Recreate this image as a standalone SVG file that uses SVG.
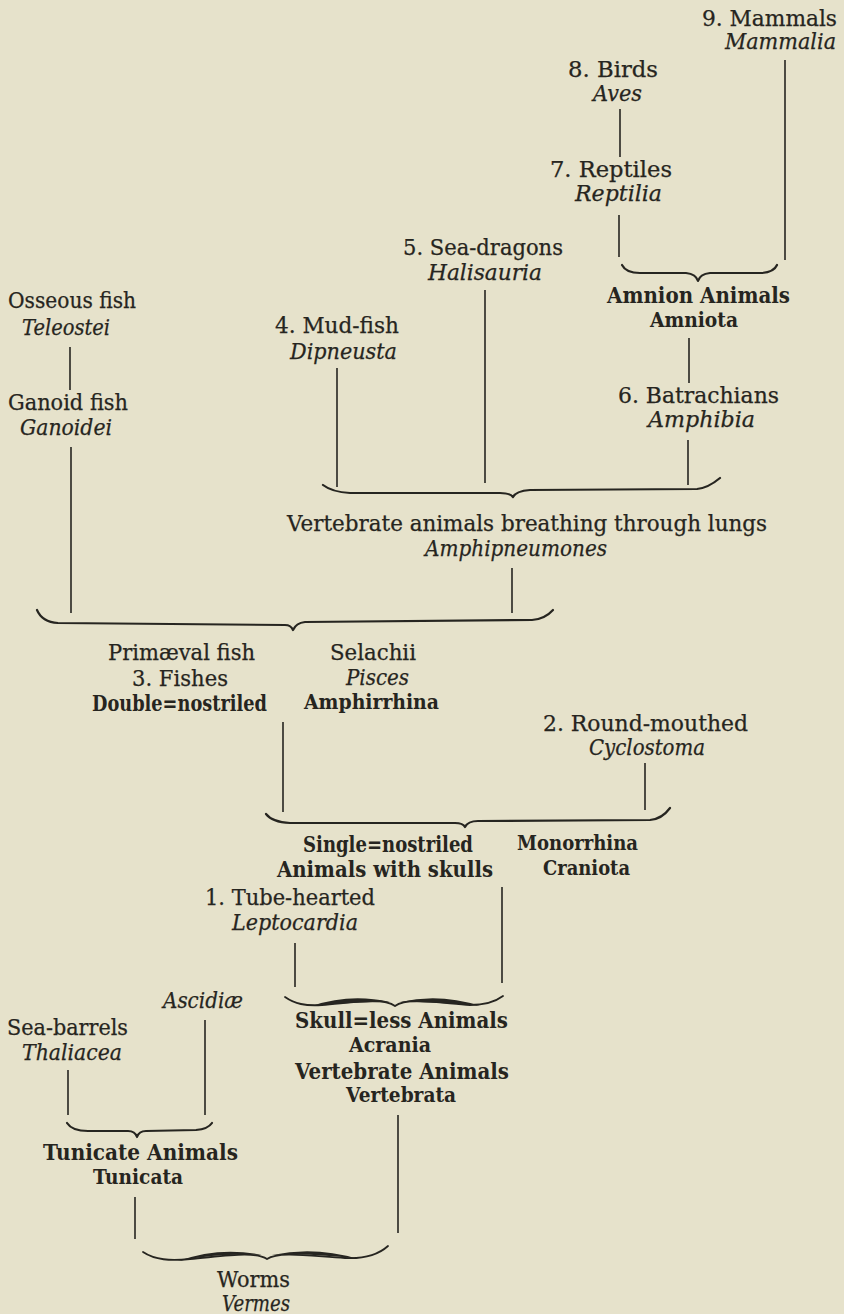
<svg xmlns="http://www.w3.org/2000/svg" width="844" height="1314" viewBox="0 0 844 1314">
<style>
text{font-family:"DejaVu Serif","Liberation Serif",serif;font-size:22px;fill:#262520;stroke:#262520;stroke-width:0.25}
.i{font-style:italic}
.b{font-weight:bold;font-size:21px;stroke-width:0}
.f{font-weight:bold;font-size:22px;stroke-width:0}
.ln{stroke:#262520;stroke-width:1.6;fill:none}
.br{stroke:#262520;stroke-width:2.2;fill:none;stroke-linecap:round;stroke-linejoin:round}
.th{fill:#262520;stroke:none}
</style>
<rect width="844" height="1314" fill="#e6e2cb"/>
<g id="connectors">
<line class="ln" x1="785" y1="60" x2="785" y2="260"/>
<line class="ln" x1="620" y1="109" x2="620" y2="157"/>
<line class="ln" x1="619" y1="215" x2="619" y2="257"/>
<line class="ln" x1="689" y1="338" x2="689" y2="383"/>
<line class="ln" x1="688" y1="440" x2="688" y2="485"/>
<line class="ln" x1="485" y1="290" x2="485" y2="483"/>
<line class="ln" x1="337" y1="368" x2="337" y2="487"/>
<line class="ln" x1="70" y1="347" x2="70" y2="390"/>
<line class="ln" x1="71" y1="447" x2="71" y2="613"/>
<line class="ln" x1="512" y1="568" x2="512" y2="613"/>
<line class="ln" x1="283" y1="722" x2="283" y2="812"/>
<line class="ln" x1="645" y1="763" x2="645" y2="810"/>
<line class="ln" x1="295" y1="943" x2="295" y2="987"/>
<line class="ln" x1="502" y1="887" x2="502" y2="983"/>
<line class="ln" x1="205" y1="1020" x2="205" y2="1115"/>
<line class="ln" x1="68" y1="1070" x2="68" y2="1115"/>
<line class="ln" x1="135" y1="1197" x2="135" y2="1239"/>
<line class="ln" x1="398" y1="1115" x2="398" y2="1233"/>
<!-- Amnion brace -->
<path class="br" d="M622,265 Q626,273 640,273 L686,273 Q696,274 698,281 Q700,274 710,273 L762,273 Q774,272 777,265"/>
<!-- Lung brace -->
<path class="br" d="M323,485 Q332,492 350,493 L500,493 Q510,493 513,497 Q516,491 530,490 L697,489 Q708,488 720,478"/>
<!-- Fish brace -->
<path class="br" d="M37,610 Q42,622 58,623 L285,625 Q291,625 293,630 Q296,623 305,622 L532,620 Q545,619 553,610"/>
<!-- Craniota brace -->
<path class="br" d="M266,814 Q272,822 290,823 L455,823 Q463,823 465,827 Q468,821 478,821 L650,820 Q662,819 670,808"/>
<!-- Acrania brace -->
<path class="br" style="stroke-width:1.8" d="M285,997 C295,1004 305,1006 322,1005 C350,1003 383,997 395,1006 C407,997 440,1003 470,1005 C485,1005 495,1002 503,996"/>
<path class="th" d="M312,1006 Q350,993 390,1002 Q350,1002 312,1006 Z"/>
<path class="th" d="M400,1002 Q440,993 480,1006 Q440,1002 400,1002 Z"/>
<!-- Tunicata brace -->
<path class="br" d="M67,1123 Q72,1131 88,1131 L128,1131 Q135,1131 137,1137 Q139,1131 146,1131 L196,1130 Q208,1129 212,1123"/>
<!-- Worms brace -->
<path class="br" style="stroke-width:1.8" d="M143,1252 C155,1260 170,1261 190,1259 C225,1256 255,1251 267,1259 C279,1251 310,1256 345,1258 C365,1259 378,1255 388,1246"/>
<path class="th" d="M178,1261 Q220,1246 262,1255 Q220,1253 178,1261 Z"/>
<path class="th" d="M272,1255 Q315,1246 358,1259 Q315,1253 272,1255 Z"/>
</g>
<g id="mammals"><text x="702" y="26" textLength="135" lengthAdjust="spacingAndGlyphs">9. Mammals</text><text class="i" x="725" y="49" textLength="111" lengthAdjust="spacingAndGlyphs">Mammalia</text></g>
<g id="birds"><text x="568" y="77" textLength="90" lengthAdjust="spacingAndGlyphs">8. Birds</text><text class="i" x="593" y="101" textLength="49" lengthAdjust="spacingAndGlyphs">Aves</text></g>
<g id="reptiles"><text x="550" y="177" textLength="122" lengthAdjust="spacingAndGlyphs">7. Reptiles</text><text class="i" x="575" y="201" textLength="87" lengthAdjust="spacingAndGlyphs">Reptilia</text></g>
<g id="sea-dragons"><text x="403" y="255" textLength="160" lengthAdjust="spacingAndGlyphs">5. Sea-dragons</text><text class="i" x="428" y="280" textLength="114" lengthAdjust="spacingAndGlyphs">Halisauria</text></g>
<g id="amniota"><text class="f" x="607" y="303" textLength="183" lengthAdjust="spacingAndGlyphs">Amnion Animals</text><text class="b" x="650" y="327" textLength="88" lengthAdjust="spacingAndGlyphs">Amniota</text></g>
<g id="osseous"><text x="8" y="308" textLength="128" lengthAdjust="spacingAndGlyphs">Osseous fish</text><text class="i" x="22" y="335" textLength="88" lengthAdjust="spacingAndGlyphs">Teleostei</text></g>
<g id="mud-fish"><text x="275" y="333" textLength="124" lengthAdjust="spacingAndGlyphs">4. Mud-fish</text><text class="i" x="290" y="359" textLength="107" lengthAdjust="spacingAndGlyphs">Dipneusta</text></g>
<g id="batrachians"><text x="618" y="403" textLength="161" lengthAdjust="spacingAndGlyphs">6. Batrachians</text><text class="i" x="648" y="427" textLength="107" lengthAdjust="spacingAndGlyphs">Amphibia</text></g>
<g id="ganoid"><text x="8" y="410" textLength="120" lengthAdjust="spacingAndGlyphs">Ganoid fish</text><text class="i" x="20" y="435" textLength="92" lengthAdjust="spacingAndGlyphs">Ganoidei</text></g>
<g id="amphipneumones"><text x="287" y="531" textLength="480" lengthAdjust="spacingAndGlyphs">Vertebrate animals breathing through lungs</text><text class="i" x="425" y="556" textLength="182" lengthAdjust="spacingAndGlyphs">Amphipneumones</text></g>
<g id="fishes"><text x="108" y="660" textLength="147" lengthAdjust="spacingAndGlyphs">Primæval fish</text><text x="132" y="686" textLength="96" lengthAdjust="spacingAndGlyphs">3. Fishes</text><text class="f" x="92" y="711" textLength="175" lengthAdjust="spacingAndGlyphs">Double=nostriled</text></g>
<g id="selachii"><text x="330" y="660" textLength="86" lengthAdjust="spacingAndGlyphs">Selachii</text><text class="i" x="346" y="685" textLength="63" lengthAdjust="spacingAndGlyphs">Pisces</text><text class="b" x="304" y="709" textLength="135" lengthAdjust="spacingAndGlyphs">Amphirrhina</text></g>
<g id="round-mouthed"><text x="543" y="731" textLength="205" lengthAdjust="spacingAndGlyphs">2. Round-mouthed</text><text class="i" x="589" y="755" textLength="116" lengthAdjust="spacingAndGlyphs">Cyclostoma</text></g>
<g id="craniota"><text class="f" x="303" y="852" textLength="170" lengthAdjust="spacingAndGlyphs">Single=nostriled</text><text class="f" x="277" y="877" textLength="216" lengthAdjust="spacingAndGlyphs">Animals with skulls</text><text class="b" x="517" y="850" textLength="121" lengthAdjust="spacingAndGlyphs">Monorrhina</text><text class="b" x="543" y="875" textLength="87" lengthAdjust="spacingAndGlyphs">Craniota</text></g>
<g id="tube-hearted"><text x="205" y="905" textLength="170" lengthAdjust="spacingAndGlyphs">1. Tube-hearted</text><text class="i" x="232" y="930" textLength="126" lengthAdjust="spacingAndGlyphs">Leptocardia</text></g>
<g id="ascidiae"><text class="i" x="163" y="1008" textLength="80" lengthAdjust="spacingAndGlyphs">Ascidiæ</text></g>
<g id="acrania"><text class="f" x="295" y="1028" textLength="213" lengthAdjust="spacingAndGlyphs">Skull=less Animals</text><text class="b" x="349" y="1052" textLength="82" lengthAdjust="spacingAndGlyphs">Acrania</text><text class="f" x="295" y="1079" textLength="214" lengthAdjust="spacingAndGlyphs">Vertebrate Animals</text><text class="b" x="346" y="1102" textLength="110" lengthAdjust="spacingAndGlyphs">Vertebrata</text></g>
<g id="sea-barrels"><text x="7" y="1035" textLength="121" lengthAdjust="spacingAndGlyphs">Sea-barrels</text><text class="i" x="22" y="1060" textLength="100" lengthAdjust="spacingAndGlyphs">Thaliacea</text></g>
<g id="tunicata"><text class="f" x="43" y="1160" textLength="195" lengthAdjust="spacingAndGlyphs">Tunicate Animals</text><text class="b" x="93" y="1184" textLength="90" lengthAdjust="spacingAndGlyphs">Tunicata</text></g>
<g id="worms"><text x="217" y="1287" textLength="73" lengthAdjust="spacingAndGlyphs">Worms</text><text class="i" x="222" y="1311" textLength="68" lengthAdjust="spacingAndGlyphs">Vermes</text></g>
</svg>
